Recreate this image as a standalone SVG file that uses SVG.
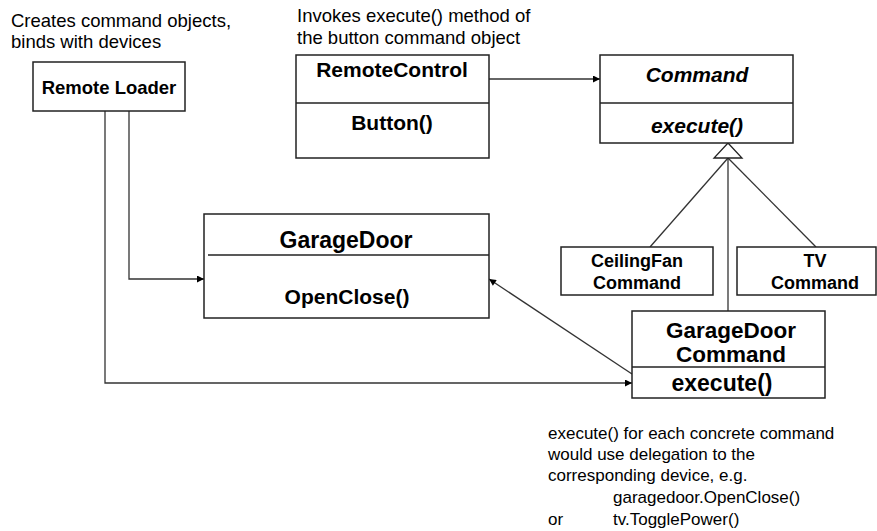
<svg xmlns="http://www.w3.org/2000/svg" width="877" height="531" viewBox="0 0 877 531">
<style>
.box{fill:#fff;stroke:#222;stroke-width:1.5}
.div{stroke:#222;stroke-width:1.3}
.ln{fill:none;stroke:#333;stroke-width:1.3}
text{font-family:"Liberation Sans",Arial,sans-serif;fill:#000}
.b{font-weight:bold;text-anchor:middle}
.bi{font-weight:bold;font-style:italic;text-anchor:middle}
.note{font-size:17px}
.top{font-size:18.5px}
</style>
<defs>
<marker id="arr" viewBox="0 0 10 10" refX="10" refY="5" markerWidth="9" markerHeight="7" markerUnits="userSpaceOnUse" orient="auto">
<path d="M0,0 L10,5 L0,10 z" fill="#000"/>
</marker>
</defs>
<rect width="877" height="531" fill="#fff"/>

<g id="notes">
<text class="top" x="11" y="27">Creates command objects,</text>
<text class="top" x="11" y="48">binds with devices</text>
<text class="top" x="297" y="22">Invokes execute() method of</text>
<text class="top" x="297" y="44">the button command object</text>
<text class="note" x="548" y="439">execute() for each concrete command</text>
<text class="note" x="548" y="460">would use delegation to the</text>
<text class="note" x="548" y="481">corresponding device, e.g.</text>
<text class="note" x="613" y="503">garagedoor.OpenClose()</text>
<text class="note" x="548" y="525">or</text>
<text class="note" x="613" y="525">tv.TogglePower()</text>
</g>

<g id="connectors">
<path class="ln" d="M489,79 H600" marker-end="url(#arr)"/>
<path class="ln" d="M129,111 V279 H204" marker-end="url(#arr)"/>
<path class="ln" d="M105,111 V383 H632" marker-end="url(#arr)"/>
<path class="ln" d="M632,374 L489,279" marker-end="url(#arr)"/>
<path class="ln" d="M728,158 L650,247"/>
<path class="ln" d="M728,158 V311"/>
<path class="ln" d="M728,158 L816,247"/>
<path d="M728,143 L742,158 L714,158 z" fill="#fff" stroke="#222" stroke-width="1.3"/>
</g>

<g id="remote-loader">
<rect class="box" x="33" y="62" width="152" height="49"/>
<text class="b" x="109" y="94" font-size="18.5">Remote Loader</text>
</g>

<g id="remote-control">
<rect class="box" x="296" y="55" width="193" height="103"/>
<line class="div" x1="296" y1="103" x2="489" y2="103"/>
<text class="b" x="392" y="77" font-size="21">RemoteControl</text>
<text class="b" x="392" y="130" font-size="21">Button()</text>
</g>

<g id="command">
<rect class="box" x="600" y="55" width="193" height="88"/>
<line class="div" x1="600" y1="103" x2="793" y2="103"/>
<text class="bi" x="697" y="82" font-size="21">Command</text>
<text class="bi" x="697" y="133" font-size="21">execute()</text>
</g>

<g id="garage-door">
<rect class="box" x="204" y="214" width="285" height="104"/>
<line class="div" x1="208" y1="255" x2="489" y2="255"/>
<text class="b" x="346" y="248" font-size="23">GarageDoor</text>
<text class="b" x="347" y="304" font-size="21">OpenClose()</text>
</g>

<g id="ceilingfan-command">
<rect class="box" x="561" y="247" width="152" height="48"/>
<text class="b" x="637" y="267" font-size="18">CeilingFan</text>
<text class="b" x="637" y="289" font-size="18">Command</text>
</g>

<g id="tv-command">
<rect class="box" x="737" y="247" width="139" height="48"/>
<text class="b" x="815" y="267" font-size="18">TV</text>
<text class="b" x="815" y="289" font-size="18">Command</text>
</g>

<g id="garagedoor-command">
<rect class="box" x="632" y="311" width="193" height="87"/>
<line class="div" x1="632" y1="367" x2="825" y2="367"/>
<text class="b" x="731" y="338" font-size="22.5">GarageDoor</text>
<text class="b" x="731" y="362" font-size="22.5">Command</text>
<text class="b" x="722" y="391" font-size="23">execute()</text>
</g>
</svg>
